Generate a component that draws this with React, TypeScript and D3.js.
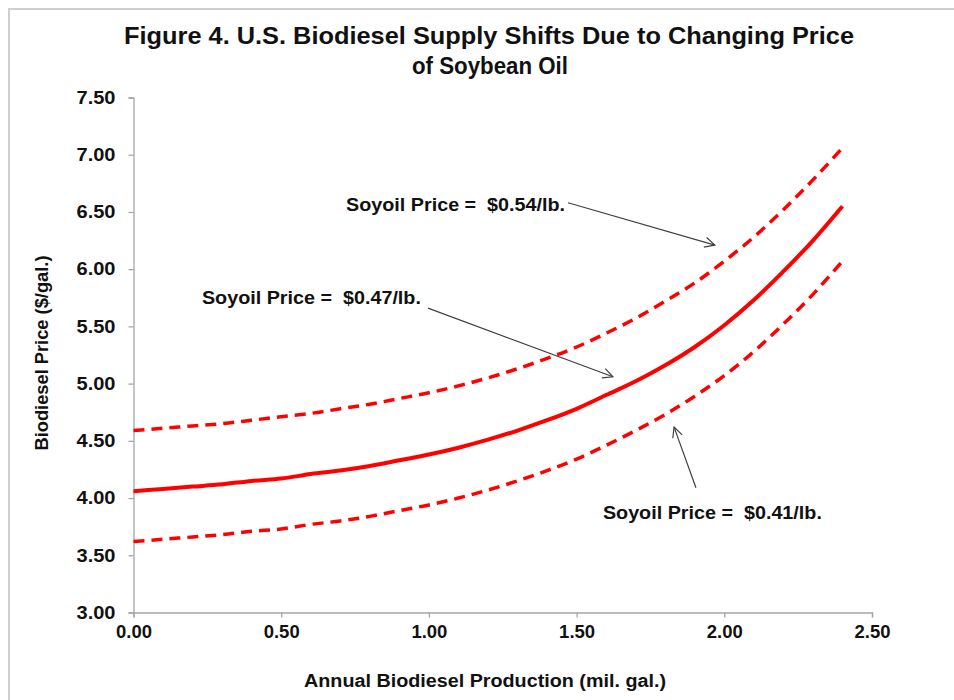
import React, { useEffect, useRef } from 'react';
import * as d3 from 'd3';

// annual biodiesel production (mil. gal.)
const production = [
  0, 0.1, 0.2, 0.3, 0.4, 0.5, 0.6, 0.7, 0.8, 0.9, 1.0, 1.1, 1.2,
  1.3, 1.4, 1.5, 1.6, 1.7, 1.8, 1.9, 2.0, 2.1, 2.2, 2.3, 2.4,
];
// biodiesel price ($/gal.) for each soyoil price
const price047 = [
  4.06, 4.08, 4.1, 4.12, 4.15, 4.17, 4.21, 4.24, 4.28, 4.33, 4.38, 4.44, 4.51,
  4.59, 4.68, 4.78, 4.9, 5.02, 5.16, 5.32, 5.51, 5.73, 5.98, 6.25, 6.55,
];
const price054 = [
  4.59, 4.61, 4.63, 4.65, 4.68, 4.71, 4.74, 4.78, 4.82, 4.87, 4.92, 4.98, 5.05,
  5.13, 5.22, 5.32, 5.44, 5.57, 5.72, 5.88, 6.07, 6.28, 6.52, 6.78, 7.06,
];
const price041 = [
  3.62, 3.64, 3.66, 3.68, 3.71, 3.73, 3.77, 3.8, 3.84, 3.89, 3.94, 4.0, 4.07,
  4.15, 4.24, 4.34, 4.46, 4.59, 4.73, 4.89, 5.07, 5.28, 5.52, 5.78, 6.07,
];
const seriesLabels = ['$0.54/lb.', '$0.47/lb.', '$0.41/lb.'];

const xTicks = [0, 0.5, 1.0, 1.5, 2.0, 2.5];
const yTicks = [3.0, 3.5, 4.0, 4.5, 5.0, 5.5, 6.0, 6.5, 7.0, 7.5];

const FONT = "'Liberation Sans', Arial, sans-serif";
const W = 954;
const H = 700;

export default function App() {
  const ref = useRef<SVGSVGElement>(null);

  useEffect(() => {
    const svg = d3.select(ref.current);
    svg.selectAll('*').remove();

    const x = d3.scaleLinear().domain([0, 2.5]).range([133.5, 872]);
    const y = d3.scaleLinear().domain([3, 7.5]).range([612.5, 97.5]);

    // outer frame
    svg
      .append('rect')
      .attr('x', 9)
      .attr('y', 9)
      .attr('width', W + 20)
      .attr('height', H + 20)
      .attr('fill', 'white')
      .attr('stroke', '#cfcfcf')
      .attr('stroke-width', 2);

    const defs = svg.append('defs');
    defs
      .append('marker')
      .attr('id', 'arrow')
      .attr('viewBox', '0 0 12 12')
      .attr('refX', 11)
      .attr('refY', 6)
      .attr('markerWidth', 12)
      .attr('markerHeight', 12)
      .attr('markerUnits', 'userSpaceOnUse')
      .attr('orient', 'auto')
      .append('path')
      .attr('d', 'M1,1 L11,6 L1,11')
      .attr('fill', 'none')
      .attr('stroke', '#404040')
      .attr('stroke-width', 1.2);

    const label = (sel, size, len) =>
      sel
        .attr('font-family', FONT)
        .attr('font-weight', 'bold')
        .attr('font-size', size)
        .attr('fill', '#111')
        .attr('textLength', len)
        .attr('lengthAdjust', 'spacingAndGlyphs');

    /* ------- TITLE -------*/
    const title = svg.append('g').attr('text-anchor', 'middle');
    label(title.append('text').attr('x', 489).attr('y', 44), 24, 730).text(
      'Figure 4. U.S. Biodiesel Supply Shifts Due to Changing Price'
    );
    label(title.append('text').attr('x', 490).attr('y', 74), 24, 156).text('of Soybean Oil');

    /* ------- AXES -------*/
    const xAxis = svg
      .append('g')
      .attr('transform', `translate(0,${y(3)})`)
      .call(
        d3.axisBottom(x).tickValues(xTicks).tickSize(5).tickPadding(8).tickFormat(d3.format('.2f'))
      );
    const yAxis = svg
      .append('g')
      .attr('transform', `translate(${x(0)},0)`)
      .call(
        d3.axisLeft(y).tickValues(yTicks).tickSize(5).tickPadding(13).tickFormat(d3.format('.2f'))
      );
    [xAxis, yAxis].forEach(g => {
      g.select('.domain').attr('stroke', '#a6a6a6').attr('stroke-width', 1.3);
      g.selectAll('.tick line').attr('stroke', '#a6a6a6').attr('stroke-width', 1.3);
      g.selectAll('text')
        .attr('font-family', FONT)
        .attr('font-weight', 'bold')
        .attr('font-size', 18)
        .attr('fill', '#111');
    });
    xAxis.selectAll('text').attr('textLength', 36).attr('lengthAdjust', 'spacingAndGlyphs');
    yAxis.selectAll('text').attr('textLength', 39).attr('lengthAdjust', 'spacingAndGlyphs');

    label(svg.append('text').attr('x', 485).attr('y', 687).attr('text-anchor', 'middle'), 18, 362).text(
      'Annual Biodiesel Production (mil. gal.)'
    );

    label(
      svg
        .append('text')
        .attr('transform', `translate(48,${(y(7.5) + y(3)) / 2 - 2}) rotate(-90)`)
        .attr('text-anchor', 'middle'),
      18,
      195
    ).text('Biodiesel Price ($/gal.)');

    /* ------- CURVES -------*/
    const line = d3
      .line<number>()
      .x((d, i) => x(production[i]))
      .y(d => y(d))
      .curve(d3.curveMonotoneX);

    const curves = [
      { values: price054, dashed: true },
      { values: price047, dashed: false },
      { values: price041, dashed: true },
    ];
    svg
      .append('g')
      .selectAll('path')
      .data(curves)
      .enter()
      .append('path')
      .attr('d', d => line(d.values))
      .attr('fill', 'none')
      .attr('stroke', '#ff0000')
      .attr('stroke-width', d => (d.dashed ? 3.5 : 4))
      .attr('stroke-dasharray', d => (d.dashed ? '11,7' : null));

    /* ------- ANNOTATIONS -------*/
    const notes = [
      { label: seriesLabels[0], tx: 1.461, ty: 6.56, anchor: 'end', from: [1.471, 6.58], to: [1.968, 6.21] },
      { label: seriesLabels[1], tx: 0.973, ty: 5.75, anchor: 'end', from: [0.997, 5.66], to: [1.623, 5.06] },
      { label: seriesLabels[2], tx: 1.589, ty: 3.87, anchor: 'start', from: [1.904, 4.09], to: [1.83, 4.62] },
    ];
    const ann = svg.append('g');
    ann
      .selectAll('line')
      .data(notes)
      .enter()
      .append('line')
      .attr('x1', d => x(d.from[0]))
      .attr('y1', d => y(d.from[1]))
      .attr('x2', d => x(d.to[0]))
      .attr('y2', d => y(d.to[1]))
      .attr('stroke', '#404040')
      .attr('stroke-width', 1.2)
      .attr('marker-end', 'url(#arrow)');
    label(
      ann
        .selectAll('text')
        .data(notes)
        .enter()
        .append('text')
        .attr('x', d => x(d.tx))
        .attr('y', d => y(d.ty))
        .attr('dy', '0.35em')
        .attr('text-anchor', d => d.anchor)
        .attr('xml:space', 'preserve'),
      18,
      219
    ).text(d => `Soyoil Price =  ${d.label}`);
  }, []);

  return (
    <svg
      ref={ref}
      width={W}
      height={H}
      style={{ position: 'absolute', left: 0, top: 0, display: 'block', background: 'white' }}
    />
  );
}
